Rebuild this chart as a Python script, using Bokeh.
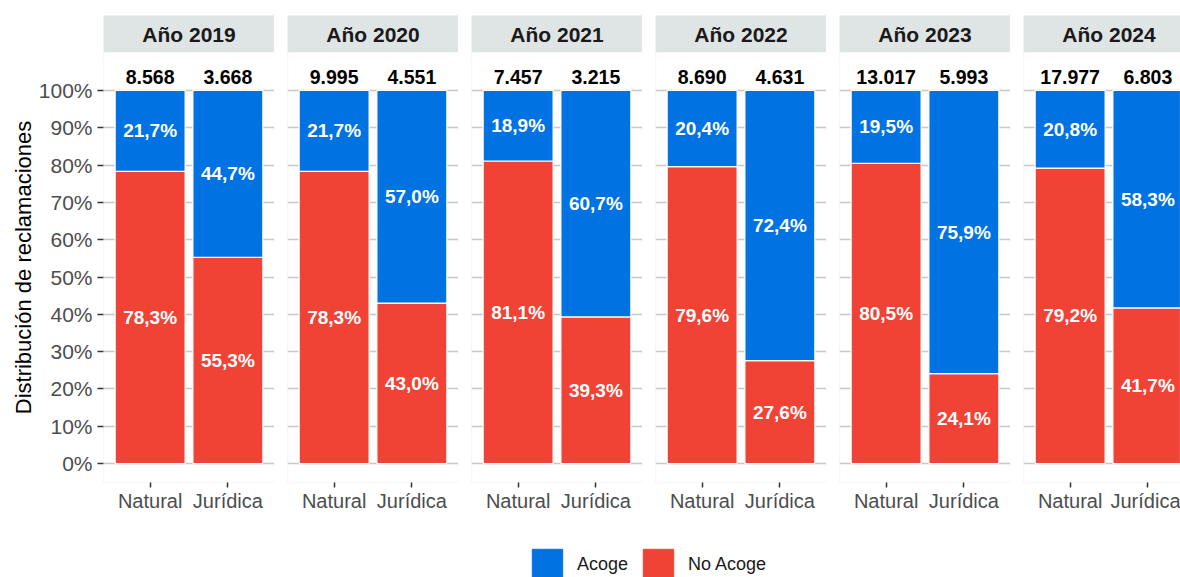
import numpy as np
from bokeh.plotting import figure
from bokeh.layouts import row, column
from bokeh.models import (Range1d, FixedTicker, NumeralTickFormatter, BoxAnnotation,
                          ColumnDataSource, Legend, LegendItem)
from bokeh.embed import file_html
from bokeh.resources import INLINE
from bokeh.core.properties import value

# ---------------- data ----------------
years = ["2019", "2020", "2021", "2022", "2023", "2024"]
categories = ["Natural", "Jurídica"]
series = ["No Acoge", "Acoge"]
natural_counts = [8568, 9995, 7457, 8690, 13017, 17977]
juridica_counts = [3668, 4551, 3215, 4631, 5993, 6803]
natural_acoge = [21.7, 21.7, 18.9, 20.4, 19.5, 20.8]
natural_no_acoge = [78.3, 78.3, 81.1, 79.6, 80.5, 79.2]
juridica_acoge = [44.7, 57.0, 60.7, 72.4, 75.9, 58.3]
juridica_no_acoge = [55.3, 43.0, 39.3, 27.6, 24.1, 41.7]
y_ticks = [i / 10 for i in range(11)]
y_title = "Distribución de reclamaciones"

# ---------------- style ----------------
FONT = value("Liberation Sans")
BLUE = "#0072E2"
RED = "#F04336"
STRIP = "#DFE4E4"
BORDER = "#C4C4C4"
GRID = "#C8C8C8"
TICK = "#333333"
TXT_GRAY = "#4D4D4D"

Y0, PANEL_TOP = -0.0509, 1.1019
COUNT_Y = 1.035
X0, X1 = 0.4, 2.6
FRAME_W = 171
PANEL_H = 430
STRIP_H = 37
LAST_W = 157
LEFT = 103
TOP = 15


def fmt_pct(v):
    return f"{v:.1f}".replace(".", ",") + "%"


def fmt_count(n):
    return f"{n:,}".replace(",", ".")


xs = list(range(1, len(categories) + 1))
facets = []
for i, yr in enumerate(years):
    first = i == 0
    last = i == len(years) - 1
    fw = LAST_W if last else FRAME_W
    x_end = X0 + (X1 - X0) * fw / FRAME_W
    xr = Range1d(X0, x_end)

    # ---- facet strip ----
    s = figure(frame_width=fw, frame_height=STRIP_H, x_range=xr, y_range=Range1d(0, 1),
               min_border_left=LEFT if first else 0, min_border_right=0,
               min_border_top=TOP, min_border_bottom=0,
               x_axis_location=None, y_axis_location=None,
               toolbar_location=None, output_backend="svg")
    s.outline_line_color = None
    s.background_fill_color = STRIP
    s.border_fill_color = "white"
    s.xgrid.visible = False
    s.ygrid.visible = False
    s.text(x=[(len(categories) + 1) / 2], y=[0.5], text=[f"Año {yr}"], text_font=FONT,
           text_font_size="21px", text_font_style="bold", text_color="#1A1A1A",
           text_align="center", text_baseline="middle")

    # ---- panel ----
    p = figure(frame_width=fw, frame_height=PANEL_H,
               x_range=xr, y_range=Range1d(Y0, PANEL_TOP),
               min_border_left=LEFT if first else 0, min_border_right=0,
               min_border_top=0, min_border_bottom=40,
               y_axis_location="left" if first else None,
               toolbar_location=None, output_backend="svg")
    p.outline_line_color = None
    p.background_fill_color = "white"
    p.border_fill_color = "white"
    p.xgrid.visible = False
    p.ygrid.ticker = FixedTicker(ticks=y_ticks)
    p.ygrid.grid_line_color = GRID
    p.ygrid.grid_line_width = 1.5
    p.add_layout(BoxAnnotation(bottom=Y0, top=PANEL_TOP, left=X0, right=X1,
                               fill_alpha=0, line_color=BORDER, line_width=1.2))

    src = ColumnDataSource(dict(
        x=xs,
        **{"No Acoge": [natural_no_acoge[i] / 100, juridica_no_acoge[i] / 100],
           "Acoge": [natural_acoge[i] / 100, juridica_acoge[i] / 100]}))
    p.vbar_stack(series, x="x", width=0.9, color=[RED, BLUE], line_color="white",
                 line_width=1.2, source=src)

    no_vals = [natural_no_acoge[i], juridica_no_acoge[i]]
    ac_vals = [natural_acoge[i], juridica_acoge[i]]
    lab = ColumnDataSource(dict(
        x=xs + xs,
        y=[v / 200 for v in no_vals] + [(n + a / 2) / 100 for n, a in zip(no_vals, ac_vals)],
        text=[fmt_pct(v) for v in no_vals] + [fmt_pct(v) for v in ac_vals]))
    p.text(x="x", y="y", text="text", source=lab, text_font=FONT, text_font_size="19px",
           text_font_style="bold", text_color="white", text_align="center",
           text_baseline="middle")

    cnt = ColumnDataSource(dict(x=xs, y=[COUNT_Y] * len(xs),
                                text=[fmt_count(natural_counts[i]), fmt_count(juridica_counts[i])]))
    p.text(x="x", y="y", text="text", source=cnt, text_font=FONT, text_font_size="19.5px",
           text_font_style="bold", text_color="#000000", text_align="center",
           text_baseline="middle")

    xa = p.xaxis[0]
    xa.ticker = FixedTicker(ticks=xs)
    xa.major_label_overrides = {x: c for x, c in zip(xs, categories)}
    xa.axis_line_color = None
    xa.major_tick_line_color = TICK
    xa.major_tick_line_width = 1.5
    xa.major_tick_out = 5
    xa.major_tick_in = 0
    xa.minor_tick_line_color = None
    xa.major_label_standoff = 2
    xa.major_label_text_font = "Liberation Sans"
    xa.major_label_text_font_size = "20px"
    xa.major_label_text_color = TXT_GRAY

    if first:
        ya = p.yaxis[0]
        ya.ticker = FixedTicker(ticks=y_ticks)
        ya.formatter = NumeralTickFormatter(format="0%")
        ya.axis_line_color = None
        ya.major_tick_line_color = TICK
        ya.major_tick_line_width = 1.5
        ya.major_tick_out = 6
        ya.major_tick_in = 0
        ya.minor_tick_line_color = None
        ya.major_label_standoff = 5
        ya.major_label_text_font = "Liberation Sans"
        ya.major_label_text_font_size = "21px"
        ya.major_label_text_color = TXT_GRAY
        ya.axis_label = y_title
        ya.axis_label_text_font = "Liberation Sans"
        ya.axis_label_text_font_size = "22px"
        ya.axis_label_text_font_style = "normal"
        ya.axis_label_text_color = "#000000"
        ya.axis_label_standoff = 0
    facets.append(column(s, p, spacing=0))

top_row = row(*facets, spacing=13)

# legend figure (renderers hold no drawable data, used only for legend keys)
total_w = LEFT + FRAME_W * (len(years) - 1) + LAST_W + 13 * (len(years) - 1)
lp = figure(width=total_w, height=55, x_range=Range1d(0, 1), y_range=Range1d(0, 1),
            min_border=0, x_axis_location=None, y_axis_location=None,
            toolbar_location=None, output_backend="svg")
lp.outline_line_color = None
lp.xgrid.visible = False
lp.ygrid.visible = False
lp.background_fill_color = "white"
lp.border_fill_color = "white"
nan_src = ColumnDataSource(dict(x=np.array([np.nan]), top=np.array([np.nan])))
r_ac = lp.vbar(x="x", top="top", width=0.1, fill_color=BLUE, line_color=BLUE, source=nan_src)
r_no = lp.vbar(x="x", top="top", width=0.1, fill_color=RED, line_color=RED, source=nan_src)
legend = Legend(items=[LegendItem(label="Acoge", renderers=[r_ac]),
                       LegendItem(label="No Acoge", renderers=[r_no])],
                orientation="horizontal", location=(528, -6),
                glyph_width=38, glyph_height=38, label_height=38,
                label_standoff=11, spacing=11, padding=0, margin=0,
                border_line_color=None, background_fill_alpha=0,
                label_text_font="Liberation Sans", label_text_font_size="18px",
                label_text_color="#1A1A1A")
lp.add_layout(legend)

layout = column(top_row, lp)
open("out.html", "w").write(file_html(layout, INLINE))
